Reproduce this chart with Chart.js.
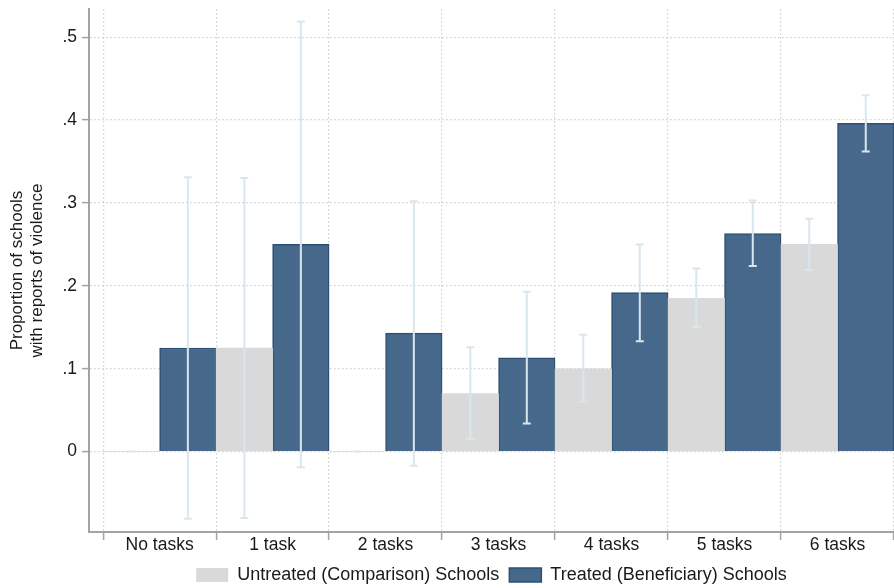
<!DOCTYPE html>
<html>
<head>
<meta charset="utf-8">
<script src="https://cdn.jsdelivr.net/npm/chart.js@4"></script>
<style>
  html, body { margin: 0; padding: 0; background: #fff; }
  #wrap { width: 894px; height: 588px; }
</style>
</head>
<body>
<div id="wrap"><canvas id="violenceChart"></canvas></div>
<script>
// Categorie (numero di compiti svolti)
const categories = ["No tasks", "1 task", "2 tasks", "3 tasks", "4 tasks", "5 tasks", "6 tasks"];

// Scuole non trattate (confronto): media e intervallo di confidenza
const untreated = [0, 0.125, 0, 0.07, 0.1, 0.185, 0.25];
const untreatedLow = [0, -0.08, 0, 0.015, 0.06, 0.15, 0.219];
const untreatedHigh = [0, 0.33, 0, 0.126, 0.141, 0.221, 0.281];

// Scuole trattate (beneficiarie): media e intervallo di confidenza
const treated = [0.125, 0.25, 0.143, 0.113, 0.192, 0.263, 0.396];
const treatedLow = [-0.081, -0.019, -0.017, 0.034, 0.133, 0.224, 0.362];
const treatedHigh = [0.331, 0.519, 0.302, 0.193, 0.25, 0.303, 0.43];

// Etichette dell'asse Y
const yTicks = [0, 0.1, 0.2, 0.3, 0.4, 0.5];

const FONT = "'Liberation Sans', Arial, sans-serif";
const GRID_COLOR = "#cfcfcf";
const AXIS_COLOR = "#a3a3a3";

// Barre di errore disegnate sopra le colonne
const errorBars = {
    id: 'errorBars',
    afterDatasetsDraw(chart) {
        const { ctx, scales } = chart;
        ctx.save();
        ctx.strokeStyle = "#dae6ee";
        ctx.lineWidth = 2;
        chart.data.datasets.forEach((dataset, datasetIndex) => {
            const meta = chart.getDatasetMeta(datasetIndex);
            meta.data.forEach((bar, index) => {
                const yLow = scales.y.getPixelForValue(dataset.ciLow[index]);
                const yHigh = scales.y.getPixelForValue(dataset.ciHigh[index]);
                const cap = 4;
                ctx.beginPath();
                ctx.moveTo(bar.x, yLow);
                ctx.lineTo(bar.x, yHigh);
                ctx.moveTo(bar.x - cap, yLow);
                ctx.lineTo(bar.x + cap, yLow);
                ctx.moveTo(bar.x - cap, yHigh);
                ctx.lineTo(bar.x + cap, yHigh);
                ctx.stroke();
            });
        });
        ctx.restore();
    }
};

// Ogni categoria occupa un'unità: non trattate a sinistra, trattate a destra
const xTickValues = [];
for (let i = 0; i <= categories.length * 2; i++) xTickValues.push(i / 2);

const ctx = document.getElementById("violenceChart").getContext("2d");

new Chart(ctx, {
    type: "bar",
    data: {
        datasets: [
            {
                label: "Untreated (Comparison) Schools",
                data: untreated.map((v, i) => ({ x: i + 0.25, y: v })),
                backgroundColor: "#d9d9d9",
                borderWidth: 0,
                ciLow: untreatedLow,
                ciHigh: untreatedHigh
            },
            {
                label: "Treated (Beneficiary) Schools",
                data: treated.map((v, i) => ({ x: i + 0.75, y: v })),
                backgroundColor: "#46698b",
                borderColor: "#2c5072",
                borderWidth: 1.5,
                ciLow: treatedLow,
                ciHigh: treatedHigh
            }
        ]
    },
    options: {
        responsive: true,
        maintainAspectRatio: false,
        animation: false,
        grouped: false,
        barPercentage: 1,
        categoryPercentage: 1,
        layout: {
            padding: { top: 9, left: 0, right: 0, bottom: -6 }
        },
        plugins: {
            tooltip: { enabled: false },
            legend: {
                position: "bottom",
                fullSize: false,
                labels: {
                    boxWidth: 32,
                    boxHeight: 14,
                    padding: 10,
                    color: "#1a1a1a",
                    font: { family: FONT, size: 18 }
                }
            }
        },
        scales: {
            x: {
                type: "linear",
                offset: false,
                min: -0.125,
                max: categories.length,
                afterBuildTicks: (scale) => {
                    scale.ticks = xTickValues.map(v => ({ value: v }));
                },
                afterFit: (scale) => { scale.height = 24; },
                ticks: {
                    autoSkip: false,
                    maxRotation: 0,
                    minRotation: 0,
                    padding: -4,
                    color: "#1a1a1a",
                    font: { family: FONT, size: 17.5, lineHeight: 1 },
                    callback: (value) => Number.isInteger(value) ? "" : categories[Math.floor(value)]
                },
                grid: {
                    offset: false,
                    color: (c) => Number.isInteger(c.tick && c.tick.value) ? GRID_COLOR : "transparent",
                    tickColor: (c) => Number.isInteger(c.tick && c.tick.value) ? AXIS_COLOR : "transparent",
                    tickLength: 8,
                    tickWidth: 1.5,
                    lineWidth: 1.2
                },
                border: { color: AXIS_COLOR, width: 2, dash: [1.5, 2.5] }
            },
            y: {
                min: -0.097,
                max: 0.534,
                afterBuildTicks: (scale) => {
                    scale.ticks = yTicks.map(v => ({ value: v }));
                },
                afterFit: (scale) => {
                    scale.width = 89;
                    scale.paddingTop = 0;
                    scale.paddingBottom = 0;
                },
                ticks: {
                    padding: 5,
                    color: "#1a1a1a",
                    font: { family: FONT, size: 17.5 },
                    callback: (value) => value === 0 ? "0" : value.toFixed(1).replace(/^0/, "")
                },
                grid: {
                    color: GRID_COLOR,
                    tickColor: AXIS_COLOR,
                    tickLength: 7,
                    tickWidth: 1.5,
                    lineWidth: 1.2
                },
                border: { color: AXIS_COLOR, width: 2, dash: [1.5, 2.5] },
                title: {
                    display: true,
                    text: ["Proportion of schools", "with reports of violence"],
                    color: "#1a1a1a",
                    font: { family: FONT, size: 17, lineHeight: 1.15 },
                    padding: { top: 8, bottom: 0 }
                }
            }
        }
    },
    plugins: [errorBars]
});
</script>
</body>
</html>
